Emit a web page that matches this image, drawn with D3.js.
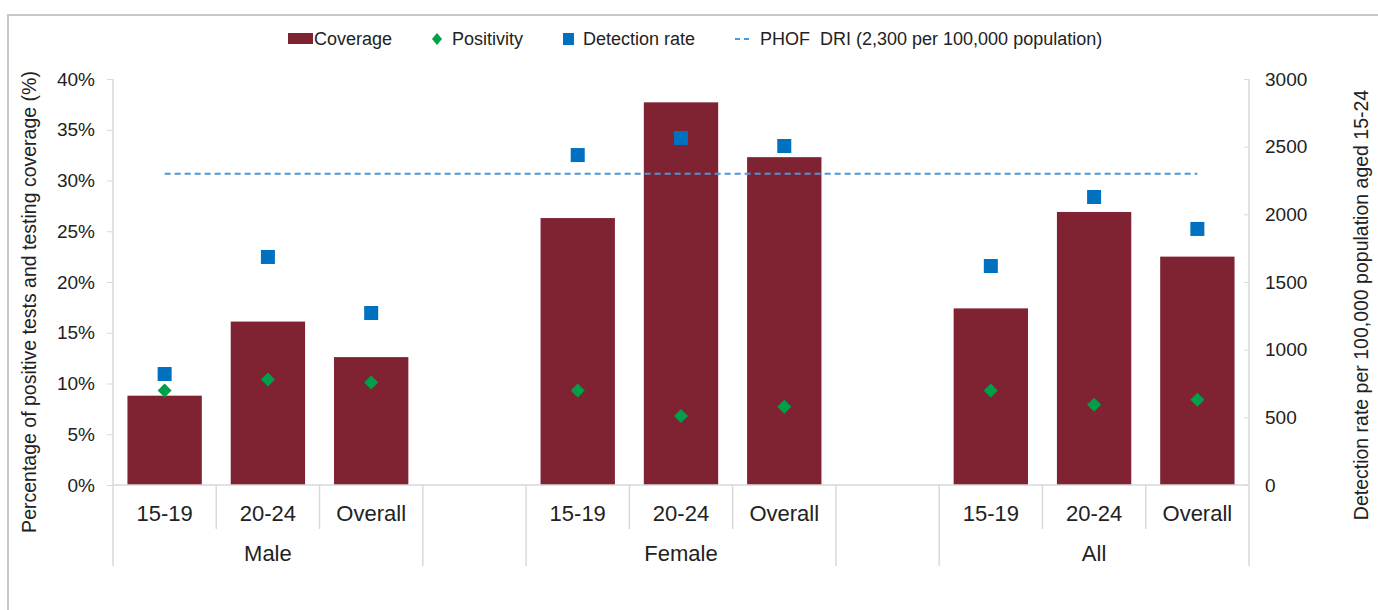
<!DOCTYPE html>
<html>
<head>
<meta charset="utf-8">
<script src="https://cdn.jsdelivr.net/npm/d3@7"></script>
<style>
  body { margin: 0; background: #fff; }
  svg { font-family: "Liberation Sans", Arial, sans-serif; }
  .axis path, .axis line { stroke: #d9d9d9; }
  .axis text { font-size: 19px; fill: #222; }
</style>
</head>
<body>
<div id="chart"></div>
<script>
// data
var groups = ["Male", "Female", "All"];
var ages = ["15-19", "20-24", "Overall"];
var coverage = [8.8, 16.1, 12.6, 26.3, 37.7, 32.3, 17.4, 26.9, 22.5];
var positivity = [9.3, 10.4, 10.1, 9.3, 6.8, 7.7, 9.3, 7.9, 8.4];
var detection = [820, 1685, 1271, 2438, 2564, 2505, 1618, 2128, 1892];
var phofTarget = 2300;
var leftTicks = [0, 5, 10, 15, 20, 25, 30, 35, 40];
var rightTicks = [0, 500, 1000, 1500, 2000, 2500, 3000];

var W = 1378, H = 610;
var margin = { top: 79, left: 113, right: 129, bottom: 125 };
var width = W - margin.left - margin.right,
    height = H - margin.top - margin.bottom;

var svg = d3.select("#chart").append("svg")
  .attr("width", W).attr("height", H);

// outer frame
svg.append("rect")
  .attr("x", 8).attr("y", 15).attr("width", W + 10).attr("height", H + 10)
  .attr("fill", "none").attr("stroke", "#c8c8c8").attr("stroke-width", 2);

var g = svg.append("g")
  .attr("transform", "translate(" + margin.left + "," + margin.top + ")");

// slots: 3 per group with a blank slot between groups
var slots = [];
groups.forEach(function(grp, gi) {
  ages.forEach(function(a) { slots.push(grp + "|" + a); });
  if (gi < groups.length - 1) slots.push("gap" + gi);
});
var rows = [];
groups.forEach(function(grp, gi) {
  ages.forEach(function(a, ai) {
    var i = gi * 3 + ai;
    rows.push({ key: grp + "|" + a, age: a, cov: coverage[i], pos: positivity[i], det: detection[i] });
  });
});

var x = d3.scaleBand().domain(slots).range([0, width]);
var yL = d3.scaleLinear().domain([0, 40]).range([height, 0]);
var yR = d3.scaleLinear().domain([0, 3000]).range([height, 0]);

// bars
g.selectAll(".bar").data(rows).enter().append("rect")
  .attr("class", "bar")
  .attr("x", function(d) { return x(d.key) + x.bandwidth() * 0.14; })
  .attr("width", x.bandwidth() * 0.72)
  .attr("y", function(d) { return yL(d.cov); })
  .attr("height", function(d) { return height - yL(d.cov); })
  .attr("fill", "#7f2333");

// left axis
var yAxisL = d3.axisLeft(yL).tickValues(leftTicks)
  .tickFormat(function(d) { return d + "%"; }).tickSize(6).tickPadding(12);
g.append("g").attr("class", "axis").call(yAxisL)
  .call(function(s) { s.select(".domain").remove(); });

// right axis
var yAxisR = d3.axisRight(yR).tickValues(rightTicks)
  .tickFormat(d3.format("d")).tickSize(-5).tickPadding(16);
g.append("g").attr("class", "axis")
  .attr("transform", "translate(" + width + ",0)")
  .call(yAxisR)
  .call(function(s) { s.select(".domain").remove(); });

// baseline
g.append("line").attr("x1", 0).attr("x2", width)
  .attr("y1", height).attr("y2", height)
  .attr("stroke", "#d9d9d9").attr("stroke-width", 1.5);

// category separators
slots.forEach(function(s, i) {
  var full = i === 0 || s.indexOf("gap") === 0 || (slots[i - 1] && slots[i - 1].indexOf("gap") === 0);
  g.append("line")
    .attr("x1", x(s)).attr("x2", x(s))
    .attr("y1", height).attr("y2", height + (full ? 81 : 44))
    .attr("stroke", "#d9d9d9").attr("stroke-width", 1.5);
});
g.append("line")
  .attr("x1", width).attr("x2", width)
  .attr("y1", 0).attr("y2", height + 81)
  .attr("stroke", "#d9d9d9").attr("stroke-width", 1.5);
g.append("line")
  .attr("x1", 0).attr("x2", 0)
  .attr("y1", 0).attr("y2", height)
  .attr("stroke", "#d9d9d9").attr("stroke-width", 1.5);

// age labels
g.selectAll(".agelabel").data(rows).enter().append("text")
  .attr("x", function(d) { return x(d.key) + x.bandwidth() / 2; })
  .attr("y", height + 36)
  .attr("text-anchor", "middle")
  .attr("font-size", 22).attr("fill", "#222")
  .text(function(d) { return d.age; });

// group labels
groups.forEach(function(grp) {
  g.append("text")
    .attr("x", x(grp + "|20-24") + x.bandwidth() / 2)
    .attr("y", height + 76)
    .attr("text-anchor", "middle")
    .attr("font-size", 22).attr("fill", "#222")
    .text(grp);
});

// PHOF dashed line
var first = rows[0].key, last = rows[rows.length - 1].key;
g.append("line")
  .attr("x1", x(first) + x.bandwidth() / 2)
  .attr("x2", x(last) + x.bandwidth() / 2)
  .attr("y1", yR(phofTarget)).attr("y2", yR(phofTarget))
  .attr("stroke", "#4a97d9").attr("stroke-width", 2)
  .attr("stroke-dasharray", "6,4");

// detection squares
g.selectAll(".det").data(rows).enter().append("rect")
  .attr("x", function(d) { return x(d.key) + x.bandwidth() / 2 - 7; })
  .attr("y", function(d) { return yR(d.det) - 7; })
  .attr("width", 14).attr("height", 14)
  .attr("fill", "#0070c0");

// positivity diamonds
g.selectAll(".pos").data(rows).enter().append("path")
  .attr("transform", function(d) {
    return "translate(" + (x(d.key) + x.bandwidth() / 2) + "," + yL(d.pos) + ")";
  })
  .attr("d", "M0,-7L7,0L0,7L-7,0Z")
  .attr("fill", "#00a04b");

// axis titles
svg.append("text")
  .attr("transform", "translate(36,302) rotate(-90)")
  .attr("text-anchor", "middle").attr("font-size", 19.5).attr("fill", "#222")
  .text("Percentage of positive tests and testing coverage (%)");
svg.append("text")
  .attr("transform", "translate(1368,305) rotate(-90)")
  .attr("text-anchor", "middle").attr("font-size", 19.5).attr("fill", "#222")
  .text("Detection rate per 100,000 population aged 15-24");

// legend
var lg = svg.append("g").attr("font-size", 18).attr("fill", "#222");
lg.append("rect").attr("x", 288).attr("y", 33).attr("width", 25).attr("height", 11).attr("fill", "#7f2333");
lg.append("text").attr("x", 314).attr("y", 45).text("Coverage");
lg.append("path").attr("d", "M437,33L442,39L437,45L432,39Z").attr("fill", "#00a04b");
lg.append("text").attr("x", 452).attr("y", 45).text("Positivity");
lg.append("rect").attr("x", 563).attr("y", 33).attr("width", 11).attr("height", 12).attr("fill", "#0070c0");
lg.append("text").attr("x", 583).attr("y", 45).text("Detection rate");
lg.append("line").attr("x1", 735).attr("x2", 752).attr("y1", 39).attr("y2", 39)
  .attr("stroke", "#4a97d9").attr("stroke-width", 2).attr("stroke-dasharray", "5,4");
lg.append("text").attr("x", 760).attr("y", 45).attr("xml:space", "preserve")
  .text("PHOF  DRI (2,300 per 100,000 population)");
</script>
</body>
</html>
